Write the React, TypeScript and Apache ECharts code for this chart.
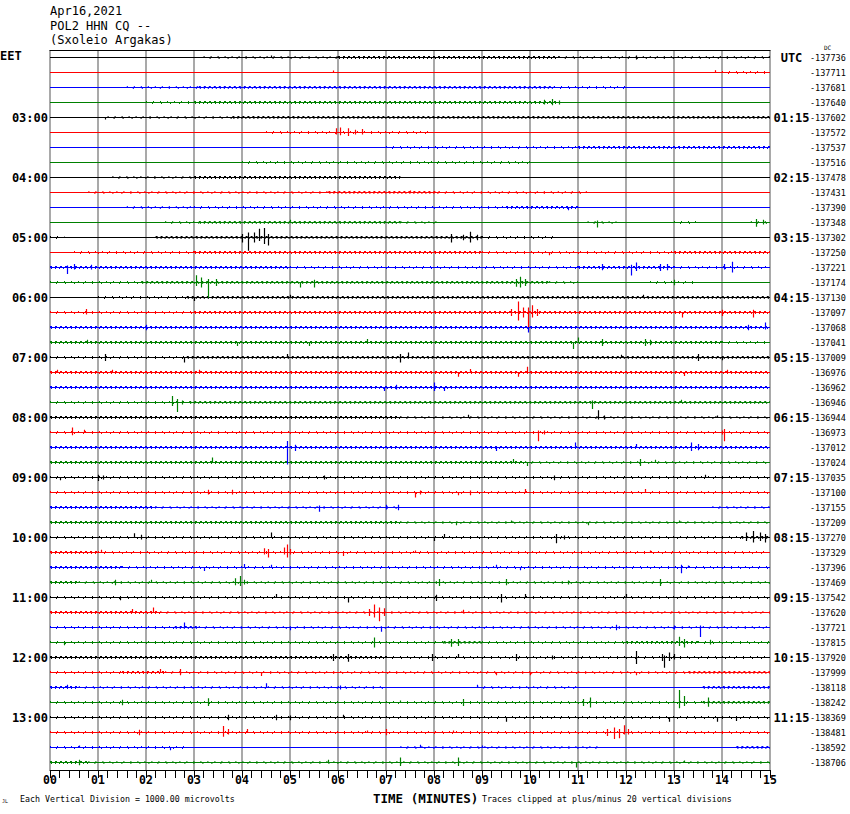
import React, { useEffect, useRef } from "react";
import * as echarts from "echarts";

const titleLines = ["Apr16,2021", "POL2 HHN CQ --", "(Sxoleio Argakas)"];
const traceColors = ["#000000", "#ff0000", "#0000ff", "#008000"];
const localHours = ["03:00", "04:00", "05:00", "06:00", "07:00", "08:00", "09:00", "10:00", "11:00", "12:00", "13:00"];
const utcHours = ["01:15", "02:15", "03:15", "04:15", "05:15", "06:15", "07:15", "08:15", "09:15", "10:15", "11:15"];
const rowOffsets = [
  -137736, -137711, -137681, -137640, -137602, -137572, -137537, -137516,
  -137478, -137431, -137390, -137348, -137302, -137250, -137221, -137174,
  -137130, -137097, -137068, -137041, -137009, -136976, -136962, -136946,
  -136944, -136973, -137012, -137024, -137035, -137100, -137155, -137209,
  -137270, -137329, -137396, -137469, -137542, -137620, -137721, -137815,
  -137920, -137999, -138118, -138242, -138369, -138481, -138592, -138706,
];
const minuteTicks = [0, 15];

// per trace: [startMinute, endMinute, noiseLevel]
const traceNoise: number[][][] = [
  [[3.2, 6, 1], [6, 10.6, 2], [10.6, 15, 1]],
  [[14, 15, 1]],
  [[1.6, 3.1, 1], [3.1, 10.5, 2], [10.5, 12, 1]],
  [[2, 3, 1], [3, 10.6, 2]],
  [[1.2, 3.8, 1], [3.8, 15, 2]],
  [[4.5, 8, 1]],
  [[7, 11, 1], [11, 15, 2]],
  [[4, 10, 1]],
  [[1.3, 3, 1], [3, 7.3, 2]],
  [[0.8, 5.8, 1], [5.8, 8.1, 2], [8.1, 11.2, 1]],
  [[1.6, 3, 1], [3, 9.5, 1], [9.5, 11, 2]],
  [[2.4, 3.1, 1], [3.1, 7.3, 2], [7.3, 8.1, 1], [11.2, 11.8, 1], [13, 13.5, 1], [14.6, 15, 1]],
  [[0, 0.3, 1], [2.2, 9, 2], [9, 10.5, 1]],
  [[0.5, 3, 1], [3, 9, 2], [9, 13, 1], [13, 15, 2]],
  [[0, 5, 2], [5, 11, 1], [11, 13, 2], [13, 15, 1]],
  [[0, 1.9, 1], [1.9, 10.4, 2], [10.4, 11, 1], [12.5, 13.5, 1]],
  [[1, 2.85, 1], [2.85, 15, 2]],
  [[0, 3, 1], [3, 15, 2]],
  [[0, 15, 2]],
  [[0, 14, 2], [14, 15, 1]],
  [[0, 2.85, 1], [2.85, 15, 2]],
  [[0, 15, 2]],
  [[0, 15, 2]],
  [[0, 2.9, 1], [2.9, 15, 2]],
  [[0, 7.3, 2], [7.3, 15, 1]],
  [[0, 15, 1]],
  [[0, 15, 2]],
  [[0, 9.9, 2], [9.9, 15, 1]],
  [[0, 15, 1]],
  [[0, 15, 1]],
  [[0, 2.2, 2], [2.2, 7.3, 1], [13.8, 15, 1]],
  [[0, 7.3, 2], [7.3, 15, 1]],
  [[0, 14.4, 1], [14.4, 15, 2]],
  [[0, 1, 2], [1, 15, 1]],
  [[0, 1.5, 2], [1.5, 15, 1]],
  [[0, 0.6, 2], [0.6, 15, 1]],
  [[0, 15, 1]],
  [[0, 2.3, 2], [2.3, 15, 1]],
  [[0, 2.6, 1], [2.6, 3.1, 2], [3.1, 15, 1]],
  [[0, 8.2, 1], [8.2, 9, 2], [9, 12, 1], [12, 13.5, 2], [13.5, 15, 1]],
  [[0, 7, 2], [7, 15, 1]],
  [[0, 1.5, 1], [1.5, 2.4, 2], [2.4, 13.3, 1], [13.3, 15, 2]],
  [[0, 0.6, 2], [0.6, 7, 1], [8.9, 11, 1], [13.6, 15, 2]],
  [[0, 13.6, 1], [13.6, 15, 2]],
  [[0, 15, 1]],
  [[0, 15, 1]],
  [[0, 2.9, 1], [7.3, 11.5, 1], [14.3, 15, 2]],
  [[0, 0.8, 2], [0.8, 15, 1]],
];

// per trace: [minute, up, down] in trace spacings
const traceSpikes: number[][][] = [
  [[4.6, 0.1, 0], [12.2, 0.1, 0.1]],
  [[5.9, 0.1, 0], [13.85, 0.12, 0]],
  [],
  [[10.3, 0.15, 0.1], [10.45, 0.2, 0.15], [10.6, 0.1, 0.1]],
  [[1.15, 0, 0.1]],
  [[5.95, 0.25, 0.1], [6.05, 0.3, 0.15], [6.2, 0.25, 0.2], [6.35, 0.15, 0.1], [6.5, 0.2, 0.1]],
  [],
  [],
  [],
  [[7.5, 0.1, 0]],
  [[10.8, 0, 0.15]],
  [[5.0, 0.15, 0], [11.4, 0.1, 0.3], [14.7, 0.2, 0.25], [14.85, 0.15, 0.1]],
  [[4.0, 0.2, 0.3], [4.13, 0.3, 0.85], [4.25, 0.3, 0.3], [4.35, 0.55, 0.2], [4.45, 0.6, 0.4], [4.55, 0.2, 0.5], [8.36, 0.2, 0.3], [8.6, 0.15, 0.15], [8.75, 0.35, 0.3], [8.9, 0.15, 0.15]],
  [[10.4, 0, 0.15]],
  [[0.35, 0.1, 0.4], [0.5, 0.2, 0.1], [0.85, 0.15, 0.1], [11.5, 0.2, 0.15], [12.1, 0.15, 0.5], [12.2, 0.3, 0.2], [12.7, 0.2, 0.2], [12.85, 0.2, 0.15], [14.05, 0.2, 0.1], [14.2, 0.35, 0.3]],
  [[3.05, 0.45, 0.2], [3.15, 0.3, 0.3], [3.3, 0.2, 1.0], [3.45, 0.2, 0.2], [5.2, 0, 0.3], [5.5, 0.15, 0.3], [9.7, 0.2, 0.25], [9.8, 0.35, 0.3], [9.9, 0.2, 0.2], [13.0, 0.15, 0.15]],
  [[3.0, 0, 0.2], [5.0, 0.15, 0], [12.35, 0.15, 0]],
  [[0.75, 0.2, 0.1], [9.6, 0.2, 0.2], [9.74, 0.7, 0.5], [9.85, 0.3, 0.3], [9.95, 0.3, 1.05], [10.05, 0.45, 0.3], [10.15, 0.2, 0.2], [13.17, 0, 0.3], [14.0, 0.15, 0.2], [14.65, 0.15, 0.3]],
  [[2.0, 0.15, 0.15], [9.95, 0, 0.3], [14.55, 0.15, 0.15], [14.9, 0.3, 0.1]],
  [[0.77, 0.15, 0], [3.9, 0, 0.2], [5.4, 0, 0.2], [6.6, 0.2, 0], [10.9, 0, 0.4], [11.0, 0.3, 0], [11.5, 0.2, 0.2], [12.4, 0.2, 0.2], [12.5, 0.15, 0.15]],
  [[1.15, 0.2, 0.2], [2.8, 0, 0.3], [4.93, 0.2, 0], [7.3, 0.2, 0.3], [7.45, 0.3, 0], [11.9, 0.15, 0], [13.5, 0.2, 0.2], [14.0, 0, 0.15]],
  [[0.15, 0.15, 0], [1.3, 0.15, 0], [3.1, 0.15, 0], [8.5, 0, 0.25], [8.75, 0.2, 0], [9.75, 0, 0.25], [9.93, 0.35, 0], [13.2, 0, 0.2], [14.1, 0.15, 0]],
  [[6.95, 0, 0.2], [7.2, 0.15, 0.1], [8.0, 0.3, 0.2], [8.2, 0, 0.2]],
  [[2.55, 0.4, 0.2], [2.65, 0.2, 0.6], [2.75, 0.1, 0.1], [11.3, 0.1, 0.4], [13.15, 0.15, 0]],
  [[8.7, 0.15, 0], [11.42, 0.45, 0.1], [11.55, 0.1, 0.1], [13.9, 0.1, 0]],
  [[0.45, 0.3, 0.15], [0.7, 0.15, 0], [10.17, 0.1, 0.55], [10.3, 0.1, 0.1], [14.0, 0.1, 0.1], [14.05, 0.2, 0.55]],
  [[4.93, 0.4, 1.1], [5.1, 0.15, 0.2], [9.3, 0, 0.2], [10.94, 0.3, 0], [12.2, 0.2, 0], [13.35, 0.3, 0.2], [13.5, 0.2, 0.15]],
  [[3.38, 0.3, 0], [9.65, 0.2, 0], [9.93, 0, 0.2], [12.3, 0.2, 0.2], [12.6, 0.15, 0]],
  [[0.2, 0, 0.15], [1.0, 0.15, 0.2], [1.1, 0.1, 0.1], [5.7, 0.1, 0.1], [10.5, 0.1, 0.15], [13.65, 0.15, 0]],
  [[3.3, 0.15, 0.1], [3.8, 0.15, 0.1], [7.6, 0, 0.3], [7.7, 0.1, 0.1], [8.5, 0, 0.15], [8.75, 0.1, 0.15], [9.9, 0.2, 0], [12.4, 0.2, 0]],
  [[5.6, 0.1, 0.25], [7.0, 0.15, 0.1], [7.25, 0.15, 0.15]],
  [[8.45, 0, 0.15], [9.6, 0.1, 0], [11.2, 0, 0.15], [13.1, 0.1, 0]],
  [[1.75, 0.25, 0], [1.9, 0.15, 0.1], [4.6, 0.3, 0], [8.0, 0, 0.2], [8.2, 0.2, 0], [10.55, 0.2, 0.35], [10.7, 0.1, 0.1], [14.5, 0.3, 0.2], [14.65, 0.4, 0.3], [14.8, 0.3, 0.2], [14.9, 0.2, 0.3]],
  [[1.06, 0.15, 0], [4.45, 0.25, 0.1], [4.55, 0.2, 0.3], [4.87, 0.3, 0.1], [4.93, 0.5, 0.3], [5.0, 0.2, 0.1], [6.1, 0, 0.2], [7.6, 0.1, 0], [12.5, 0.1, 0]],
  [[3.2, 0, 0.2], [4.05, 0.2, 0], [4.6, 0.15, 0], [9.3, 0.15, 0], [9.8, 0, 0.15], [13.15, 0.15, 0.35], [13.3, 0.1, 0]],
  [[1.35, 0.15, 0.15], [2.1, 0.15, 0], [3.85, 0.25, 0.15], [3.95, 0.4, 0.2], [4.05, 0.15, 0.1], [8.1, 0.2, 0.2], [9.5, 0.2, 0.15], [10.8, 0.1, 0.1], [12.7, 0.2, 0.2]],
  [[1.45, 0, 0.15], [4.7, 0.2, 0], [6.2, 0, 0.3], [8.05, 0.15, 0.2], [9.4, 0.2, 0.3], [9.9, 0.2, 0], [12.0, 0.2, 0]],
  [[1.7, 0.2, 0], [2.15, 0.3, 0], [6.65, 0.2, 0.2], [6.75, 0.5, 0.3], [6.85, 0.3, 0.55], [6.95, 0.25, 0.2], [8.6, 0.15, 0]],
  [[2.8, 0.3, 0], [5.0, 0, 0.15], [6.9, 0, 0.25], [11.8, 0.15, 0.15], [13.0, 0.1, 0.1], [13.55, 0.1, 0.6]],
  [[0.3, 0, 0.15], [6.75, 0.3, 0.3], [8.35, 0.2, 0.25], [8.5, 0.2, 0.2], [13.1, 0.35, 0.2], [13.2, 0.2, 0.3], [13.75, 0.15, 0.1]],
  [[5.9, 0.2, 0.2], [6.2, 0.2, 0.25], [7.95, 0.2, 0.2], [8.5, 0.2, 0], [9.7, 0.2, 0.2], [10.45, 0.1, 0.1], [12.2, 0.4, 0.4], [12.75, 0.2, 0.2], [12.8, 0.1, 0.65], [12.9, 0.3, 0.2], [13.0, 0.2, 0.1]],
  [[2.3, 0.2, 0], [2.7, 0.2, 0.15], [4.4, 0, 0.2], [9.3, 0, 0.15], [10.0, 0, 0.15], [12.2, 0, 0.15]],
  [[0.35, 0.15, 0], [4.5, 0.25, 0], [6.05, 0.1, 0.1], [8.9, 0.15, 0]],
  [[1.5, 0.15, 0.15], [3.3, 0.25, 0.2], [7.3, 0.1, 0], [8.6, 0.2, 0.2], [11.1, 0.2, 0.2], [11.25, 0.3, 0.3], [13.1, 0.8, 0.35], [13.2, 0.4, 0.2], [13.7, 0.3, 0.25]],
  [[3.7, 0.15, 0.15], [4.7, 0.15, 0.15], [5.0, 0.1, 0.15], [6.1, 0.15, 0], [9.5, 0, 0.25], [12.9, 0, 0.25], [13.9, 0, 0.25], [14.3, 0, 0.2]],
  [[1.85, 0.15, 0.15], [3.6, 0.4, 0.25], [3.7, 0.2, 0.1], [4.1, 0.2, 0], [6.6, 0.1, 0], [7.0, 0.2, 0.15], [8.4, 0.1, 0], [11.6, 0.2, 0.2], [11.75, 0.3, 0.4], [11.85, 0.2, 0.35], [11.95, 0.45, 0.1], [12.05, 0.2, 0.1]],
  [[0.6, 0.1, 0], [2.5, 0, 0.15], [7.7, 0.15, 0], [9.0, 0.1, 0]],
  [[0.6, 0.15, 0.15], [5.8, 0.15, 0], [7.3, 0.3, 0.2], [8.5, 0.3, 0.2], [10.95, 0, 0.3], [13.2, 0.1, 0]],
];

const MONO = "'DejaVu Sans Mono', 'Liberation Mono', monospace";

export default function App() {
  const ref = useRef<HTMLDivElement>(null);

  useEffect(() => {
    if (!ref.current) return;
    const chart = echarts.init(ref.current, undefined, { renderer: "svg" });
    const rows = rowOffsets.map((_, i) => String(i));
    const leftLabels = rows.map((_, i) => (i > 0 && i % 4 === 0 ? localHours[i / 4 - 1] || "" : ""));
    const rightHour = rows.map((_, i) => (i === 0 ? "UTC" : i % 4 === 0 ? utcHours[i / 4 - 1] || " " : " "));
    const colorOf = (r: number) => traceColors[r % 4];

    const baselineSeries = rows.map((_, r) => ({
      type: "line",
      xAxisIndex: 0,
      yAxisIndex: 0,
      data: minuteTicks.map((m) => [m, r]),
      symbol: "none",
      silent: true,
      lineStyle: { color: colorOf(r), width: 1 },
      z: 2,
    }));

    const noiseData: number[][] = [];
    traceNoise.forEach((segs, r) => segs.forEach((s) => noiseData.push([s[0], r, s[1], s[2]])));
    const spikeData: number[][] = [];
    traceSpikes.forEach((sp, r) => sp.forEach((s) => spikeData.push([s[0], r, s[1], s[2]])));

    const option: any = {
      animation: false,
      backgroundColor: "#ffffff",
      grid: { left: 50, right: 80, top: 50, bottom: 44, containLabel: false },
      xAxis: [
        {
          type: "value",
          min: 0,
          max: 15,
          interval: 1,
          position: "bottom",
          axisLine: { show: true, lineStyle: { color: "#000", width: 1 } },
          axisTick: { show: true, length: 8, lineStyle: { color: "#000", width: 1 } },
          minorTick: { show: true, splitNumber: 5, length: 8, lineStyle: { color: "#000", width: 1 } },
          splitLine: { show: true, lineStyle: { color: "#8c8c8c", width: 1.5 } },
          minorSplitLine: { show: false },
          axisLabel: {
            formatter: (v: number) => String(v).padStart(2, "0"),
            fontFamily: MONO,
            fontWeight: "bold",
            fontSize: 11.5,
            color: "#000",
            margin: 4,
          },
        },
        {
          type: "value",
          min: 0,
          max: 15,
          position: "top",
          axisLine: { show: true, lineStyle: { color: "#000", width: 1 } },
          axisTick: { show: false },
          axisLabel: { show: false },
          splitLine: { show: false },
        },
      ],
      yAxis: [
        {
          type: "category",
          data: rows,
          inverse: true,
          boundaryGap: true,
          axisLine: { show: false },
          axisTick: { show: false },
          splitLine: { show: false },
          axisLabel: {
            interval: 0,
            formatter: (_v: string, i: number) => leftLabels[i],
            fontFamily: MONO,
            fontWeight: "bold",
            fontSize: 12,
            color: "#000",
            margin: 2,
          },
        },
        {
          type: "category",
          data: rows,
          inverse: true,
          position: "right",
          boundaryGap: true,
          axisLine: { show: false },
          axisTick: { show: false },
          splitLine: { show: false },
          axisLabel: {
            interval: 0,
            margin: 3,
            formatter: (_v: string, i: number) => `{h|${rightHour[i]}}{n|${rowOffsets[i]}}`,
            rich: {
              h: { fontFamily: MONO, fontWeight: "bold", fontSize: 12, color: "#000", width: 37, align: "right", verticalAlign: "middle" },
              n: { fontFamily: MONO, fontSize: 8.5, color: "#000", verticalAlign: "middle" },
            },
          },
        },
      ],
      series: [
        ...baselineSeries,
        {
          type: "custom",
          xAxisIndex: 0,
          yAxisIndex: 0,
          silent: true,
          z: 3,
          encode: { x: 0, y: 1 },
          data: noiseData,
          renderItem: (_p: any, api: any) => {
            const r = api.value(1);
            const s = api.coord([api.value(0), r]);
            const e = api.coord([api.value(2), r]);
            const lvl = api.value(3);
            const color = colorOf(r);
            const y = Math.floor(s[1]) + 0.5;
            const dense = lvl >= 2;
            return {
              type: "group",
              children: [
                {
                  type: "line",
                  shape: { x1: s[0], y1: y - 1, x2: e[0], y2: y - 1 },
                  style: { stroke: color, lineWidth: 1, lineDash: dense ? [2, 3] : [1, 6] },
                },
                {
                  type: "line",
                  shape: { x1: s[0], y1: y + 1, x2: e[0], y2: y + 1 },
                  style: { stroke: color, lineWidth: 1, lineDash: dense ? [1, 3] : [1, 8], lineDashOffset: 3 },
                },
              ],
            };
          },
        },
        {
          type: "custom",
          xAxisIndex: 0,
          yAxisIndex: 0,
          silent: true,
          z: 4,
          encode: { x: 0, y: 1 },
          data: spikeData,
          renderItem: (_p: any, api: any) => {
            const r = api.value(1);
            const c = api.coord([api.value(0), r]);
            const h = api.size([0, 1])[1];
            const x = Math.round(c[0]) + 0.5;
            return {
              type: "line",
              shape: { x1: x, y1: c[1] - api.value(2) * h - 0.5, x2: x, y2: c[1] + api.value(3) * h + 0.5 },
              style: { stroke: colorOf(r), lineWidth: 1.2 },
            };
          },
        },
      ],
      graphic: [
        ...titleLines.map((t, i) => ({
          type: "text",
          left: 50,
          top: 5 + i * 14.5,
          style: { text: t, font: `12px ${MONO}`, fill: "#000" },
        })),
        { type: "text", left: 0, top: 50, style: { text: "EET", font: `bold 12px ${MONO}`, fill: "#000" } },
        { type: "text", left: 824, top: 44, style: { text: "DC", font: `6px ${MONO}`, fill: "#000" } },
        { type: "text", left: 373, top: 792, style: { text: "TIME (MINUTES)", font: `bold 12.5px ${MONO}`, fill: "#000" } },
        { type: "text", left: 20, top: 795, style: { text: "Each Vertical Division = 1000.00 microvolts", font: `8.3px ${MONO}`, fill: "#000" } },
        { type: "text", left: 482, top: 795, style: { text: "Traces clipped at plus/minus 20 vertical divisions", font: `8.3px ${MONO}`, fill: "#000" } },
        { type: "text", left: 2, top: 798, style: { text: "JL", font: `5px ${MONO}`, fill: "#000" } },
      ],
    };
    chart.setOption(option);
    return () => chart.dispose();
  }, []);

  return (
    <div
      ref={ref}
      style={{ position: "fixed", left: 0, top: 0, width: 850, height: 814, background: "#fff" }}
    />
  );
}
